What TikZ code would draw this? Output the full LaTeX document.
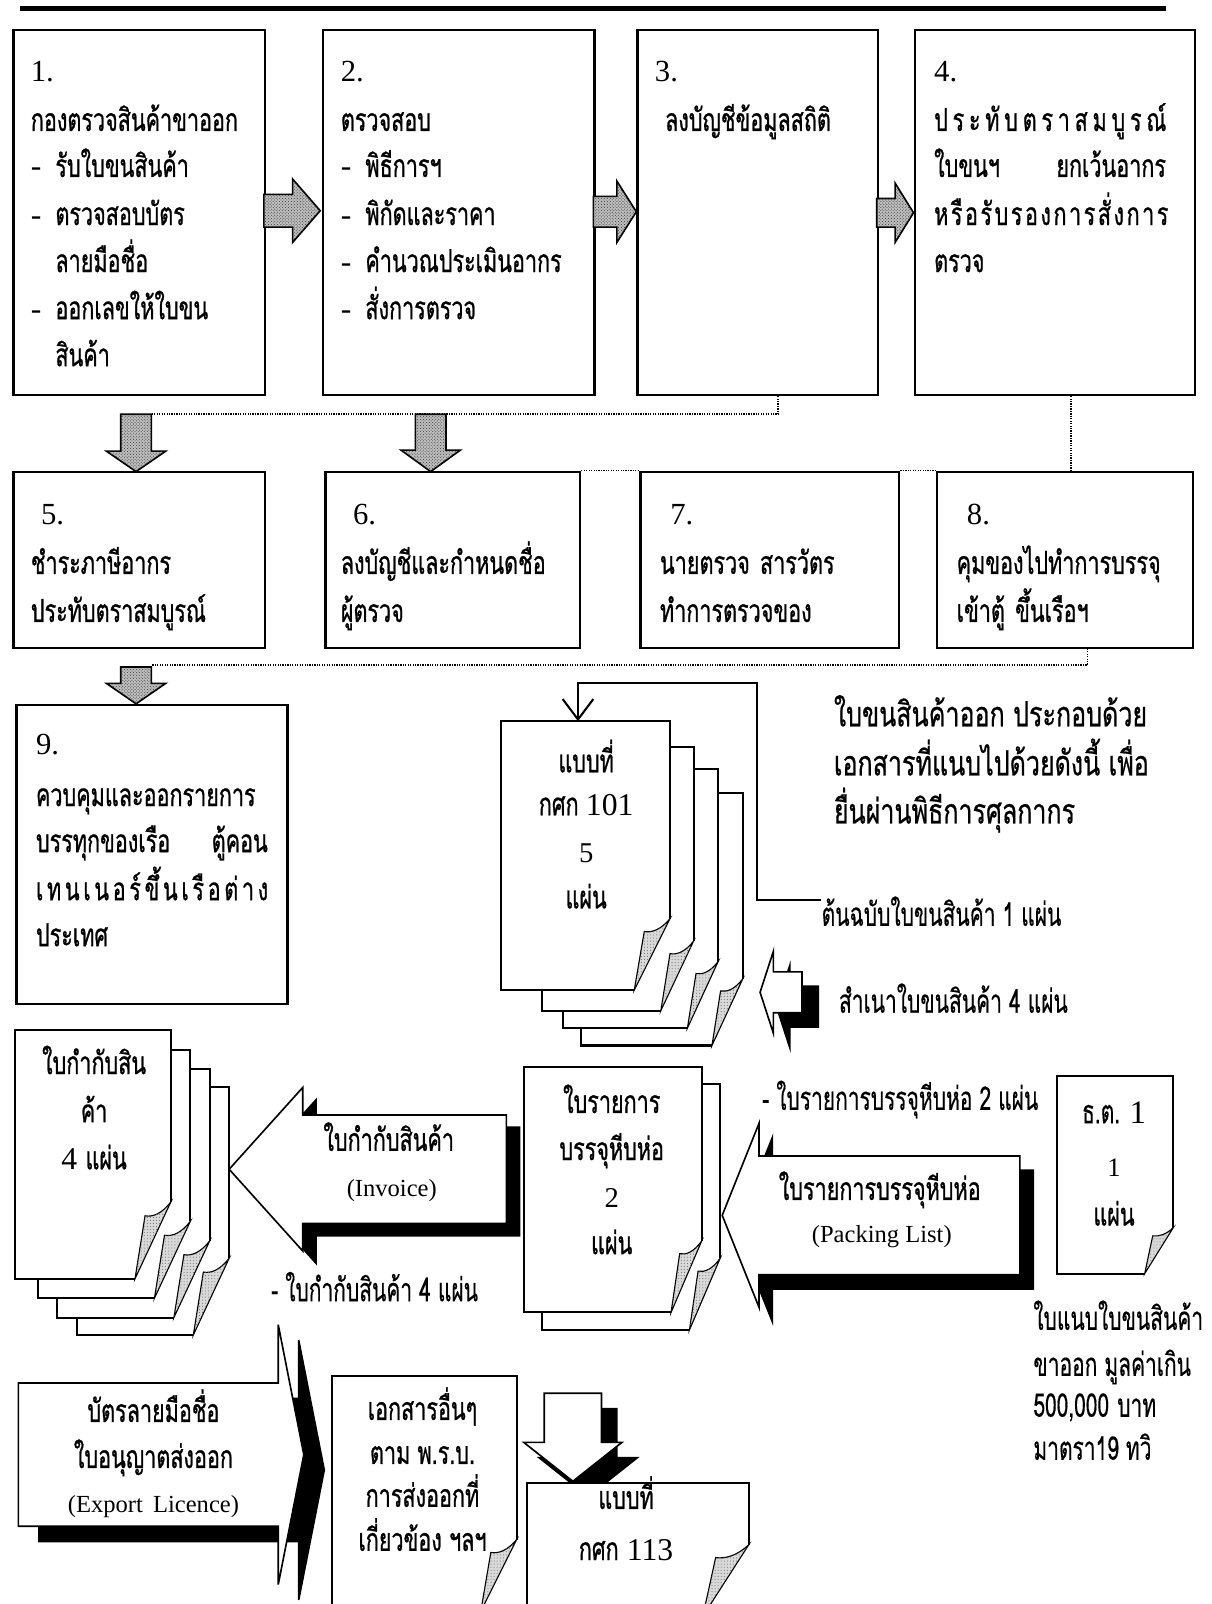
\documentclass[tikz,border=0pt]{standalone}
\usepackage{fontspec}
\setmainfont{Liberation Serif}
\newfontfamily\thai[Script=Thai,FakeStretch=0.68,FakeBold=0.8]{Loma}
\newfontfamily\thaism[Script=Thai,FakeStretch=0.64,FakeBold=0.35]{Loma}
\newfontfamily\thaibig[Script=Thai,FakeStretch=0.72,FakeBold=0.6]{Loma}
\usetikzlibrary{arrows.meta,patterns}
\tikzset{
 box/.style={draw, line width=2.2pt, fill=white, anchor=north west, inner sep=0pt},
 tx/.style={font=\thai\fontsize{31}{31}\selectfont, anchor=base west, inner sep=0pt},
 txc/.style={tx, anchor=base},
 big/.style={font=\thaibig\fontsize{34}{34}\selectfont, anchor=base west, inner sep=0pt},
 sm/.style={font=\thaism\fontsize{32}{32}\selectfont, anchor=base west, inner sep=0pt},
 lat/.style={font=\fontsize{24}{24}\selectfont, anchor=base, inner sep=0pt},
 num/.style={font=\fontsize{30}{30}\selectfont, anchor=base west, inner sep=0pt},
 shadearrow/.style={draw=black, line width=1.6pt, fill=gray!50, postaction={pattern=crosshatch dots, pattern color=black!80}},
 whitearrow/.style={draw=black, line width=1.6pt, fill=white},
 blackarrow/.style={draw=black, line width=1.6pt, fill=black},
 dotline/.style={dash pattern=on 1.2pt off 1.2pt, line width=1.8pt},
 docline/.style={line width=2pt},
 flap/.style={draw=black, line width=1.1pt, fill=gray!30, postaction={pattern=dots, pattern color=black!60}},
 conn/.style={line width=2pt},
}
\newcommand\dsh{\makebox[24pt][l]{\rmfamily -}}
\newcommand\RArrow[7]{\draw[#1] (#2,#5-#6) -- (#3,#5-#6) -- (#3,#5-#7) -- (#4,#5) -- (#3,#5+#7) -- (#3,#5+#6) -- (#2,#5+#6) -- cycle;}
\newcommand\DArrow[7]{\draw[#1] (#2-#6,#3) -- (#2+#6,#3) -- (#2+#6,#4) -- (#2+#7,#4) -- (#2,#5) -- (#2-#7,#4) -- (#2-#6,#4) -- cycle;}
\newcommand\MyDoc[6]{%
 \fill[white] (#1,#2) -- (#3,#2) -- (#3,#4-#6) -- (#3-#5,#4) -- (#1,#4) -- cycle;
 \draw[docline] (#3,#4-#6) -- (#3,#2) -- (#1,#2) -- (#1,#4) -- (#3-#5,#4);
 \draw[flap] (#3,#4-#6) .. controls (#3-0.25*#5,#4-0.85*#6) and (#3-0.5*#5,#4-0.8*#6) .. (#3-0.72*#5,#4-0.82*#6) -- (#3-#5,#4) -- cycle;
}
\begin{document}
\begin{tikzpicture}[x=1pt,y=-1pt]
\useasboundingbox (0,0) rectangle (1184,1568);
\clip (0,0) rectangle (1184,1568);
\fill[white] (0,0) rectangle (1184,1568);
\draw[line width=5pt] (20,8) -- (1140,8);
% boxes
\node[box, minimum width=246pt, minimum height=357pt] (b1) at (12,28) {};
\node[box, minimum width=265pt, minimum height=357pt] (b2) at (315,28) {};
\node[box, minimum width=235pt, minimum height=357pt] (b3) at (622,28) {};
\node[box, minimum width=274pt, minimum height=357pt] (b4) at (893,28) {};
\node[box, minimum width=246pt, minimum height=172pt] (b5) at (12,460) {};
\node[box, minimum width=249pt, minimum height=172pt] (b6) at (317,460) {};
\node[box, minimum width=253pt, minimum height=172pt] (b7) at (625,460) {};
\node[box, minimum width=250pt, minimum height=172pt] (b8) at (915,460) {};
\node[box, minimum width=265pt, minimum height=292pt] (b9) at (15,688) {};
% dotted connectors
\coordinate (dA) at (149,405);
\coordinate (dB) at (149,650);
\draw[dotline] ([xshift=20pt]b3.south) |- (dA);
\draw[dotline] ([xshift=16pt]b4.south) -- ([xshift=16pt]b4.south |- b8.north);
\draw[dotline] (b6.north east) -- (b7.north west);
\draw[dotline] (b7.north east) -- (b8.north west);
\draw[dotline] ([xshift=22pt]b8.south) |- (dB);
% shaded arrows
\RArrow{shadearrow}{258}{286}{313}{206}{16}{31}
\RArrow{shadearrow}{580}{603}{622}{207}{15}{30}
\RArrow{shadearrow}{857}{875}{893}{208}{14}{29}
\DArrow{shadearrow}{133}{405}{441}{461}{15}{29}
\DArrow{shadearrow}{421}{405}{440}{461}{15}{29}
\DArrow{shadearrow}{133}{652}{668}{688}{15}{29}
% box texts
\node[num] (n1) at (30,80) {1.};
\node[tx] (t1a) at (30,128) {กองตรวจสินค้าขาออก};
\node[tx] (t1b) at (30,173) {\dsh รับใบขนสินค้า};
\node[tx] (t1c) at (30,220) {\dsh ตรวจสอบบัตร};
\node[tx] (t1d) at (54,266) {ลายมือชื่อ};
\node[tx] (t1e) at (30,312) {\dsh ออกเลขให้ใบขน};
\node[tx] (t1f) at (54,358) {สินค้า};
\node[num] (n2) at (333,80) {2.};
\node[tx] (t2a) at (333,128) {ตรวจสอบ};
\node[tx] (t2b) at (333,173) {\dsh พิธีการฯ};
\node[tx] (t2c) at (333,220) {\dsh พิกัดและราคา};
\node[tx] (t2d) at (333,266) {\dsh คำนวณประเมินอากร};
\node[tx] (t2e) at (333,312) {\dsh สั่งการตรวจ};
\node[num] (n3) at (640,80) {3.};
\node[tx] (t3a) at (650,128) {ลงบัญชีข้อมูลสถิติ};
\node[num] (n4) at (913,80) {4.};
\node[tx] (t4a) at (913,128) {\makebox[227pt][s]{ป\hfill ร\hfill ะ\hfill ทั\hfill บ\hfill ต\hfill ร\hfill า\hfill ส\hfill ม\hfill บู\hfill ร\hfill ณ์}};
\node[tx] (t4b) at (913,173) {ใบขนฯ};
\node[tx, anchor=base east] (t4c) at (1140,173) {ยกเว้นอากร};
\node[tx] (t4d) at (913,220) {\makebox[229pt][s]{ห\hfill รื\hfill อ\hfill รั\hfill บ\hfill ร\hfill อ\hfill ง\hfill ก\hfill า\hfill ร\hfill สั่\hfill ง\hfill ก\hfill า\hfill ร}};
\node[tx] (t4e) at (913,266) {ตรวจ};
\node[num] (n5) at (40,513) {5.};
\node[tx] (t5a) at (30,561) {ชำระภาษีอากร};
\node[tx] (t5b) at (30,608) {ประทับตราสมบูรณ์};
\node[num] (n6) at (345,513) {6.};
\node[tx] (t6a) at (333,561) {ลงบัญชีและกำหนดชื่อ};
\node[tx] (t6b) at (333,608) {ผู้ตรวจ};
\node[num] (n7) at (655,513) {7.};
\node[tx] (t7a) at (645,561) {นายตรวจ\hspace{10pt}สารวัตร};
\node[tx] (t7b) at (645,608) {ทำการตรวจของ};
\node[num] (n8) at (945,513) {8.};
\node[tx] (t8a) at (935,561) {คุมของไปทำการบรรจุ};
\node[tx] (t8b) at (935,608) {เข้าตู้\hspace{10pt}ขึ้นเรือฯ};
\node[num] (n9) at (35,738) {9.};
\node[tx] (t9a) at (35,788) {ควบคุมและออกรายการ};
\node[tx] (t9b) at (35,833) {บรรทุกของเรือ};
\node[tx, anchor=base east] (t9c) at (262,833) {ตู้คอน};
\node[tx] (t9d) at (35,880) {\makebox[227pt][s]{เ\hfill ท\hfill น\hfill เ\hfill น\hfill อ\hfill ร์\hfill ขึ้\hfill น\hfill เ\hfill รื\hfill อ\hfill ต่\hfill า\hfill ง}};
\node[tx] (t9e) at (35,925) {ประเทศ};
% right paragraph
\node[big] (p1) at (815,710) {ใบขนสินค้าออก ประกอบด้วย};
\node[big] (p2) at (815,758) {เอกสารที่แนบไปด้วยดังนี้ เพื่อ};
\node[big] (p3) at (815,805) {ยื่นผ่านพิธีการศุลกากร};
% doc stack 101
\MyDoc{568}{775}{726}{1022}{30}{65}
\MyDoc{550}{752}{702}{1005}{30}{65}
\MyDoc{530}{730}{678}{988}{32}{68}
\MyDoc{490}{705}{655}{968}{35}{70}
\node[txc] (d1a) at (573,755) {แบบที่};
\node[txc] (d1b) at (573,797) {กศก {\rmfamily 101}};
\node[txc,font=\fontsize{28}{28}\selectfont] (d1c) at (573,843) {5};
\node[txc] (d1d) at (573,888) {แผ่น};
\node[sm] (l1) at (803,905) {ต้นฉบับใบขนสินค้า 1 แผ่น};
\coordinate (c0) at (803,880);
\coordinate (c101) at (565,705);
\draw[conn,-{Straight Barb[length=20pt,width=30pt]}] (c0) -- (740,880) -- (740,668) -| (c101);
% copy arrow
\RArrow{blackarrow,shift={(16,14)}}{784}{756}{743}{970}{20}{40}
\RArrow{whitearrow}{784}{756}{743}{970}{20}{40}
\node[sm] (l2) at (820,990) {สำเนาใบขนสินค้า 4 แผ่น};
% invoice stack
\MyDoc{75}{1063}{224}{1305}{35}{75}
\MyDoc{56}{1045}{205}{1288}{35}{75}
\MyDoc{37}{1026}{186}{1269}{35}{75}
\MyDoc{15}{1007}{167}{1250}{35}{75}
\node[txc] (i1) at (92,1050) {ใบกำกับสิน};
\node[txc] (i2) at (92,1097) {ค้า};
\node[txc] (i3) at (92,1143) {{\rmfamily 4}\hspace{8pt}แผ่น};
\RArrow{blackarrow,shift={(13,12)}}{495}{296}{224}{1143}{53}{80}
\RArrow{whitearrow}{495}{296}{224}{1143}{53}{80}
\node[txc] (ia1) at (380,1125) {ใบกำกับสินค้า};
\node[lat] (ia2) at (383,1170) {(Invoice)};
\node[sm] (l3) at (265,1272) {- ใบกำกับสินค้า 4 แผ่น};
% packing stack
\MyDoc{530}{1060}{704}{1300}{30}{70}
\MyDoc{512}{1043}{686}{1283}{30}{70}
\node[txc] (k1) at (598,1088) {ใบรายการ};
\node[txc] (k2) at (598,1134) {บรรจุหีบห่อ};
\node[txc,font=\fontsize{28}{28}\selectfont] (k3) at (598,1180) {2};
\node[txc] (k4) at (598,1226) {แผ่น};
\node[sm] (l4) at (745,1085) {- ใบรายการบรรจุหีบห่อ 2 แผ่น};
\RArrow{blackarrow,shift={(13,14)}}{997}{742}{706}{1188}{58}{90}
\RArrow{whitearrow}{997}{742}{706}{1188}{58}{90}
\node[txc] (ka1) at (860,1173) {ใบรายการบรรจุหีบห่อ};
\node[lat] (ka2) at (862,1215) {(Packing\hspace{6pt}List)};
% thor tor doc
\MyDoc{1033}{1052}{1147}{1245}{28}{45}
\node[sm,anchor=base] (e1) at (1089,1098) {ธ.ต. {\rmfamily 1}};
\node[txc,font=\fontsize{26}{26}\selectfont] (e2) at (1089,1150) {1};
\node[txc] (e3) at (1089,1198) {แผ่น};
\node[sm] (m1) at (1010,1300) {ใบแนบใบขนสินค้า};
\node[sm] (m2) at (1010,1345) {ขาออก มูลค่าเกิน};
\node[sm] (m3) at (1010,1385) {500,000\hspace{8pt}บาท};
\node[sm] (m4) at (1010,1427) {มาตรา19 ทวิ};
% export arrow
\RArrow{blackarrow,shift={(20,15)}}{18}{272}{297}{1422}{70}{127}
\RArrow{whitearrow}{18}{272}{297}{1422}{70}{127}
\node[txc] (x1) at (150,1390) {บัตรลายมือชื่อ};
\node[txc] (x2) at (150,1435) {ใบอนุญาตส่งออก};
\node[lat] (x3) at (150,1479) {(Export\hspace{10pt}Licence)};
% other docs
\MyDoc{325}{1345}{505}{1575}{35}{70}
\node[txc] (o1) at (413,1388) {เอกสารอื่นๆ};
\node[txc] (o2) at (413,1431) {ตาม พ.ร.บ.};
\node[txc] (o3) at (413,1473) {การส่งออกที่};
\node[txc] (o4) at (413,1516) {เกี่ยวข้อง ฯลฯ};
% down arrow and form 113
\DArrow{blackarrow,shift={(15,15)}}{560}{1362}{1410}{1448}{28}{48}
\DArrow{whitearrow}{560}{1362}{1410}{1448}{28}{48}
\MyDoc{515}{1450}{732}{1580}{45}{70}
\node[txc] (g1) at (612,1475) {แบบที่};
\node[txc] (g2) at (612,1525) {กศก\hspace{8pt}{\rmfamily 113}};
\end{tikzpicture}
\end{document}
